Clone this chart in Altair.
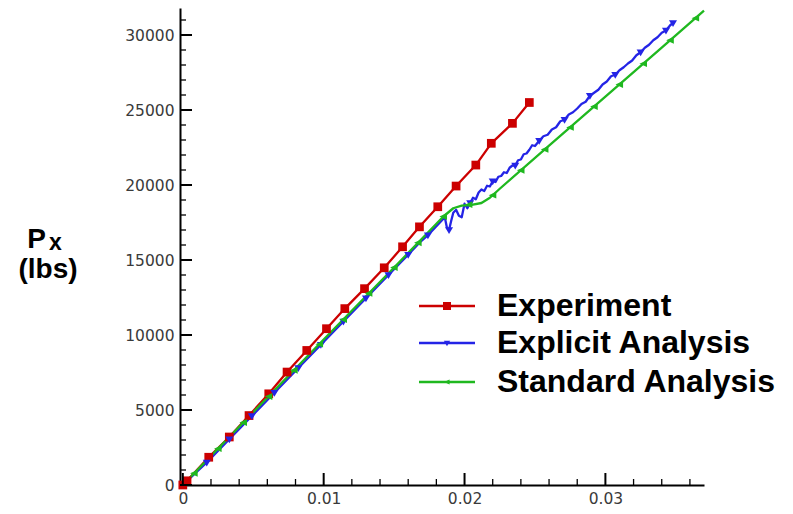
import altair as alt
import pandas as pd

# ---------------- data ----------------
series_names = ["Experiment", "Explicit Analysis", "Standard Analysis"]
series_colors = ["#cc0000", "#2424e6", "#1fb81f"]

exp_x = [0.0, 0.0003, 0.00184, 0.0033, 0.0047, 0.0061, 0.0074, 0.0088, 0.0102, 0.0115,
         0.0129, 0.0143, 0.0156, 0.0168, 0.0181, 0.0194, 0.0208, 0.0219, 0.0234, 0.0246]
exp_y = [0, 280, 1850, 3200, 4630, 6080, 7530, 8970, 10420, 11760,
         13090, 14480, 15880, 17210, 18550, 19930, 21330, 22780, 24110, 25500]

std_x = [0.0, 0.0050, 0.0100, 0.0150, 0.0185, 0.0192, 0.0198, 0.0205, 0.0212, 0.0218,
         0.0225, 0.0260, 0.0300, 0.0340, 0.0370]
std_y = [0, 4850, 9700, 14500, 17900, 18450, 18620, 18680, 18800, 19150,
         19750, 22620, 25890, 29160, 31620]
std_mx = [0.0008, 0.0025, 0.0043, 0.0061, 0.0079, 0.0097, 0.0114, 0.0132, 0.0150, 0.0167,
          0.0185, 0.0203, 0.0220, 0.0240, 0.0257, 0.0275, 0.0292, 0.0310, 0.0327, 0.0346, 0.0364]
std_my = [780, 2420, 4160, 5900, 7650, 9390, 11030, 12780, 14500, 16150,
          17900, 18690, 19320, 20980, 22370, 23840, 25230, 26700, 28090, 29650, 31120]

expl_x = [0.0, 0.0017, 0.0033, 0.0049, 0.0065, 0.0082, 0.0098, 0.0114, 0.0130, 0.0146,
          0.0160, 0.0168, 0.0174, 0.0179, 0.0183, 0.0186, 0.01875, 0.0189, 0.01905, 0.0192,
          0.0194, 0.0196, 0.0198, 0.0200, 0.0202, 0.0204, 0.0206, 0.0208, 0.0210, 0.0212,
          0.0214, 0.0216, 0.0218, 0.0220, 0.0222, 0.0224, 0.0226, 0.0228, 0.0230, 0.0232,
          0.0234, 0.0236, 0.0238, 0.0240, 0.0242, 0.0244, 0.0246, 0.0248, 0.0250, 0.0253,
          0.0256, 0.0259, 0.0262, 0.0265, 0.0268, 0.0271, 0.0274, 0.0277, 0.0280, 0.0283,
          0.0286, 0.0289, 0.0292, 0.0295, 0.0298, 0.0301, 0.0304, 0.0307, 0.0310, 0.0313,
          0.0316, 0.0319, 0.0322, 0.0325, 0.0328, 0.0331, 0.0334, 0.0337, 0.0340, 0.0343,
          0.0346, 0.0348]
expl_y = [0, 1500, 3050, 4600, 6150, 7800, 9350, 10900, 12450, 14000,
          15350, 16150, 16650, 17150, 17550, 17850, 17150, 17000, 17600, 18150,
          18350, 17950, 17850, 18750, 18450, 18800, 19150, 19050, 19500, 19700,
          19600, 19950, 19900, 20250, 20200, 20550, 20600, 20850, 20800, 21150,
          21300, 21300, 21650, 21700, 22050, 22100, 22350, 22650, 22600, 22950,
          23250, 23350, 23700, 23850, 24250, 24350, 24700, 24850, 25100, 25400,
          25550, 25950, 26150, 26350, 26700, 26900, 27250, 27350, 27650, 27850,
          28100, 28300, 28650, 28850, 29150, 29350, 29650, 29850, 30150, 30300,
          30650, 30800]
expl_mx = [0.0017, 0.0033, 0.0049, 0.0065, 0.0082, 0.0098, 0.0114, 0.0130, 0.0146, 0.0160,
           0.0174, 0.0189, 0.0204, 0.0220, 0.0236, 0.0253, 0.0271, 0.0289, 0.0307, 0.0325,
           0.0343, 0.0348]
expl_my = [1500, 3050, 4600, 6150, 7800, 9350, 10900, 12450, 14000, 15350,
           16650, 17000, 18800, 20250, 21300, 22950, 24350, 25950, 27350, 28850,
           30300, 30800]

x_major = [0, 0.01, 0.02, 0.03]
x_minor = [0.002, 0.004, 0.006, 0.008, 0.012, 0.014, 0.016, 0.018, 0.022, 0.024,
           0.026, 0.028, 0.032, 0.034, 0.036]
y_major = [0, 5000, 10000, 15000, 20000, 25000, 30000]
y_minor = [1000, 2000, 3000, 4000, 6000, 7000, 8000, 9000, 11000, 12000, 13000, 14000,
           16000, 17000, 18000, 19000, 21000, 22000, 23000, 24000, 26000, 27000, 28000,
           29000, 31000]

y_title_main = "P"
y_title_sub = "x"
y_title_unit = "(lbs)"

# ---------------- tables ----------------
lines_df = pd.concat([
    pd.DataFrame({"x": exp_x, "y": exp_y, "series": series_names[0]}),
    pd.DataFrame({"x": expl_x, "y": expl_y, "series": series_names[1]}),
    pd.DataFrame({"x": std_x, "y": std_y, "series": series_names[2]}),
], ignore_index=True)
marker_tables = [
    pd.DataFrame({"x": exp_x, "y": exp_y, "series": series_names[0]}),
    pd.DataFrame({"x": expl_mx, "y": expl_my, "series": series_names[1]}),
    pd.DataFrame({"x": std_mx, "y": std_my, "series": series_names[2]}),
]

# ---------------- styling ----------------
W, H = 524, 477
xscale = alt.Scale(domain=[-0.0002, 0.037], nice=False, zero=False)
yscale = alt.Scale(domain=[0, 31800], nice=False, zero=False)
cscale = alt.Scale(domain=series_names, range=series_colors)

x_axis = alt.Axis(values=x_major, format="~g", title=None, labelFlush=False)
y_axis = alt.Axis(values=y_major, format="d", title=None)

marker_paths = [
    "M-1,-1H1V1H-1Z",
    "M-1,-0.7H1L0,1Z",
    "M-1,0L0.9,-0.85V0.85Z",
]
marker_sizes = [76, 64, 64]
legend_marker_sizes = [64, 40, 32]

# legend layout (pixels inside the plot area)
legend_rows = [298, 335, 374]
legend_line_x = (239, 295)
legend_marker_x = 267
legend_text_x = 317

lines = alt.Chart(lines_df).mark_line(strokeWidth=2.3, strokeJoin="round").encode(
    x=alt.X("x:Q", scale=xscale, axis=x_axis),
    y=alt.Y("y:Q", scale=yscale, axis=y_axis),
    color=alt.Color("series:N", scale=cscale, legend=None),
    detail="series:N",
)

marker_layers = []
for tbl, path, size in zip(marker_tables, marker_paths, marker_sizes):
    marker_layers.append(
        alt.Chart(tbl).mark_point(shape=path, size=size, filled=True, opacity=1).encode(
            x=alt.X("x:Q", scale=xscale, axis=x_axis),
            y=alt.Y("y:Q", scale=yscale, axis=y_axis),
            color=alt.Color("series:N", scale=cscale, legend=None),
        )
    )

legend_layers = []
for name, path, msize, ry in zip(series_names, marker_paths, legend_marker_sizes, legend_rows):
    src = alt.Chart(pd.DataFrame({"series": [name]}))
    legend_layers.append(src.mark_rule(strokeWidth=2.5).encode(
        x=alt.value(legend_line_x[0]), x2=alt.value(legend_line_x[1]), y=alt.value(ry),
        color=alt.Color("series:N", scale=cscale, legend=None)))
    legend_layers.append(src.mark_point(shape=path, size=msize, filled=True, opacity=1).encode(
        x=alt.value(legend_marker_x), y=alt.value(ry),
        color=alt.Color("series:N", scale=cscale, legend=None)))
    legend_layers.append(src.mark_text(
        align="left", baseline="middle", font="Liberation Sans", fontSize=32,
        fontWeight="bold", color="black").encode(
        x=alt.value(legend_text_x), y=alt.value(ry), text="series:N"))

xt_major = alt.Chart(pd.DataFrame({"v": x_major})).mark_rule(color="black", strokeWidth=2).encode(
    x=alt.X("v:Q", scale=xscale, axis=x_axis), y=alt.value(H), y2=alt.value(H - 12))
xt_minor = alt.Chart(pd.DataFrame({"v": x_minor})).mark_rule(color="black", strokeWidth=1.3).encode(
    x=alt.X("v:Q", scale=xscale, axis=x_axis), y=alt.value(H), y2=alt.value(H - 6))
yt_major = alt.Chart(pd.DataFrame({"v": y_major})).mark_rule(color="black", strokeWidth=2).encode(
    y=alt.Y("v:Q", scale=yscale, axis=y_axis), x=alt.value(0), x2=alt.value(12))
yt_minor = alt.Chart(pd.DataFrame({"v": y_minor})).mark_rule(color="black", strokeWidth=1.3).encode(
    y=alt.Y("v:Q", scale=yscale, axis=y_axis), x=alt.value(0), x2=alt.value(6))

title_font = dict(font="Liberation Sans", fontWeight="bold", color="black")
t_main = alt.Chart(pd.DataFrame({"t": [y_title_main]})).mark_text(
    align="right", baseline="alphabetic", fontSize=28, **title_font).encode(
    text="t:N", x=alt.value(-134), y=alt.value(240))
t_sub = alt.Chart(pd.DataFrame({"t": [y_title_sub]})).mark_text(
    align="left", baseline="alphabetic", fontSize=23, **title_font).encode(
    text="t:N", x=alt.value(-131), y=alt.value(242))
t_unit = alt.Chart(pd.DataFrame({"t": [y_title_unit]})).mark_text(
    align="center", baseline="alphabetic", fontSize=28, **title_font).encode(
    text="t:N", x=alt.value(-132), y=alt.value(270))

chart = alt.layer(
    lines, *marker_layers, xt_major, xt_minor, yt_major, yt_minor,
    *legend_layers, t_main, t_sub, t_unit
).properties(
    width=W, height=H,
    autosize=alt.AutoSizeParams(type="none"),
    padding={"left": 172, "top": 0, "right": 81, "bottom": 21},
    background="white",
).configure_view(stroke=None).configure_axis(
    ticks=False, grid=False, domainColor="black", domainWidth=2,
    labelFont="DejaVu Sans", labelFontSize=15.5, labelColor="#3a3a3a", labelPadding=6,
)

chart.save("out.html", embed_options={"renderer": "svg", "actions": False})
